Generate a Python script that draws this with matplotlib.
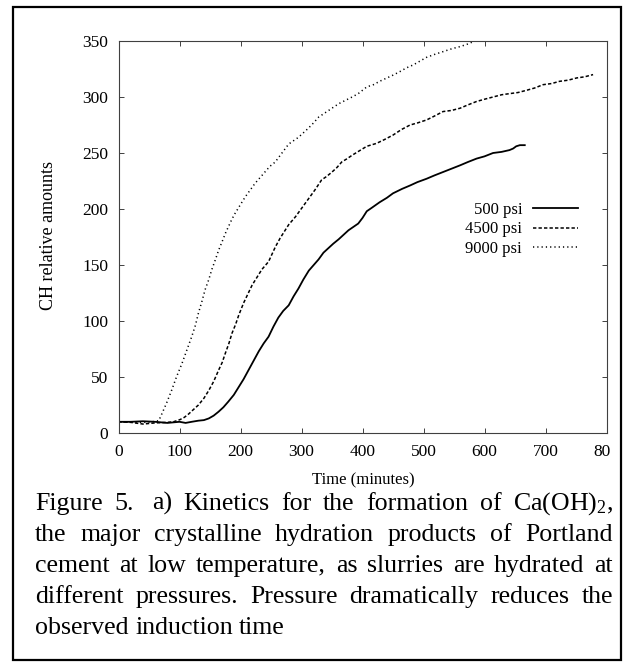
import matplotlib
matplotlib.use('Agg')
import matplotlib.pyplot as plt
from matplotlib.patches import Rectangle
from matplotlib.transforms import Bbox, TransformedBbox

matplotlib.rcParams['font.family'] = ['Liberation Serif', 'DejaVu Serif']
matplotlib.rcParams['mathtext.fontset'] = 'custom'
matplotlib.rcParams['mathtext.rm'] = 'Liberation Serif'
matplotlib.rcParams['mathtext.it'] = 'Liberation Serif:italic'

#data (time in minutes, CH relative amounts)
t_500 = [0, 20, 40, 60, 80, 100, 110, 120, 131, 140, 148, 156, 164, 172, 180,
         189, 197, 205, 213, 222, 230, 238, 246, 254, 262, 270, 279, 287, 295,
         303, 312, 320, 328, 336, 344, 352, 361, 369, 377, 385, 393, 400, 407,
         415, 428, 440, 450, 465, 478, 490, 505, 518, 532, 546, 560, 573, 587,
         600, 614, 628, 641, 647, 652, 658, 666]
ch_500 = [10, 10, 10.5, 10, 9, 10, 9, 10, 11, 11.5, 13, 15.5, 19, 23, 28,
          34, 41, 48, 56, 65, 73, 80, 86, 95, 103, 109, 114, 122, 129,
          137, 145, 150, 155, 161, 165, 169, 173, 177, 181, 184, 187, 192, 198,
          201, 206, 210, 214, 218, 221, 224, 227, 230, 233, 236, 239, 242, 245,
          247, 250, 251, 252.6, 254, 256, 257, 257]

t_4500 = [0, 20, 40, 60, 80, 90, 101, 108, 115, 123, 131, 140, 148, 156, 164,
          170, 175, 181, 186, 192, 197, 205, 212, 219, 227, 235, 246, 257, 265,
          272, 279, 290, 298, 306, 314, 322, 333, 341, 350, 358, 366, 375, 383,
          395, 407, 423, 436, 450, 464, 478, 491, 505, 518, 532, 546, 560, 573,
          587, 600, 614, 628, 641, 655, 669, 682, 696, 710, 723, 737, 751, 764,
          778]
ch_4500 = [10, 9.5, 8, 9, 9.5, 10, 12, 14, 17, 21, 25, 31, 38, 46, 56,
           63, 71, 80, 89, 97, 105, 116, 124, 132, 139, 146, 153, 166, 174,
           180, 186, 193, 199, 205, 211, 217, 226, 229, 233, 237, 242, 245, 248,
           252, 256, 258.6, 262, 266, 271, 275, 277, 279.5, 283, 287, 288, 290, 293,
           296, 298, 300, 302, 303, 304, 306, 308, 311, 312, 314, 315, 317, 318,
           320]

t_9000 = [0, 20, 40, 55, 66, 71, 79, 87, 95, 104, 112, 120, 126, 131, 137,
          142, 148, 153, 159, 164, 170, 175, 180, 186, 191, 200, 208, 216, 224,
          232, 240, 248, 257, 268, 279, 287, 295, 303, 311, 320, 328, 339, 350,
          361, 372, 383, 393, 407, 418, 428, 440, 450, 461, 472, 483, 494, 505,
          518, 532, 546, 560, 571, 582]
ch_9000 = [10, 10, 9.5, 10, 11, 17, 27, 38, 50, 62, 74, 86, 96, 107, 118,
           128, 137, 146, 155, 163, 171, 178, 184, 191, 196, 204, 211, 217, 223,
           228, 233, 238, 242, 250, 258, 261, 264, 268, 272, 277, 282, 286, 290,
           294, 297, 300, 303, 309, 311, 314, 317, 319.5, 322.6, 326, 328.6, 332, 335.4,
           338, 340.5, 343, 345, 347, 349.5]

labels = ['500 psi', '4500 psi', '9000 psi']
xticks = [0, 100, 200, 300, 400, 500, 600, 700, 800]
yticks = [0, 50, 100, 150, 200, 250, 300, 350]

caption = [
    (['Figure', '5.', 'a)', 'Kinetics', 'for', 'the', 'formation', 'of',
      r'Ca(OH)$_2$,'], [1, 2, 1, 1, 1, 1, 1, 1]),
    (['the', 'major', 'crystalline', 'hydration', 'products', 'of',
      'Portland'], None),
    (['cement', 'at', 'low', 'temperature,', 'as', 'slurries', 'are',
      'hydrated', 'at'], None),
    (['different', 'pressures.', 'Pressure', 'dramatically', 'reduces',
      'the'], None),
    (['observed', 'induction', 'time'], None),
]

W, H = 628., 662.
fig = plt.figure(figsize=(W / 100, H / 100), dpi=100)

#axes box in pixels: x 118.5..606.5, y 41..433 (from top)
ax = fig.add_axes([118.5 / W, 1 - 433 / H, 488 / W, 392 / H])

ax.plot(t_500, ch_500, color='black', lw=1.3, ls='-', label=labels[0])
ax.plot(t_4500, ch_4500, color='black', lw=1.1, ls=(0, (2.2, 1.4)),
        label=labels[1])
ax.plot(t_9000, ch_9000, color='black', lw=1.1, ls=(0, (0.8, 2.0)),
        label=labels[2])

ax.set_xlim(0, 800)
ax.set_ylim(0, 350)
ax.set_xticks(xticks)
ax.set_yticks(yticks)
ax.tick_params(direction='in', length=3.8, width=0.7, color='#404040',
               top=True, right=True, labelsize=12.5)
ax.tick_params(axis='x', pad=8)
ax.tick_params(axis='y', pad=7.5)
for s in ax.spines.values():
    s.set_color('#404040')
    s.set_linewidth(0.8)

#source scan cuts the last tick label
clip = TransformedBbox(Bbox([[0, 0], [610 / W, 1]]), fig.transFigure)
for lab in ax.get_xticklabels():
    lab.set_clip_box(clip)
    lab.set_clip_on(True)

leg = ax.legend(loc='upper right', bbox_to_anchor=(0.9416, 0.59), frameon=False,
                markerfirst=False, fontsize=12, handlelength=2.7,
                handletextpad=0.66, labelspacing=0.22, borderpad=0,
                borderaxespad=0)

fig.text(363 / W, 1 - 480 / H, 'Time (minutes)', fontsize=12,
         ha='center', va='center')
fig.text(49 / W, 1 - 235 / H, 'CH relative amounts', fontsize=13,
         rotation=90, ha='center', va='center')

#caption, justified between x0 and x1
cap_fs = 18.6
x0, x1 = 35., 613.
base = [510, 541, 572, 603, 634]
fig.canvas.draw()
r = fig.canvas.get_renderer()

def wwidth(s):
    tt = fig.text(0, 0, s, fontsize=cap_fs)
    w = tt.get_window_extent(renderer=r).width
    tt.remove()
    return w

sp = wwidth('x x') - wwidth('xx')
for i, (words, gaps) in enumerate(caption):
    if gaps is None:
        gaps = [1] * (len(words) - 1)
    ws = [wwidth(w) for w in words]
    natural = sum(ws) + sp * sum(gaps)
    if i < len(caption) - 1:
        extra = (x1 - x0 - natural) / len(gaps)
    else:
        extra = 0
    x = x0
    for j, w in enumerate(words):
        fig.text(x / W, 1 - base[i] / H, w, fontsize=cap_fs,
                 ha='left', va='baseline')
        if j < len(gaps):
            x += ws[j] + gaps[j] * sp + extra

#frame round the whole figure
fig.add_artist(Rectangle((13 / W, 1 - 660 / H), 608 / W, 653 / H,
                         transform=fig.transFigure, fill=False,
                         lw=1.6, ec='black'))

fig.savefig('out.png', dpi=100)
